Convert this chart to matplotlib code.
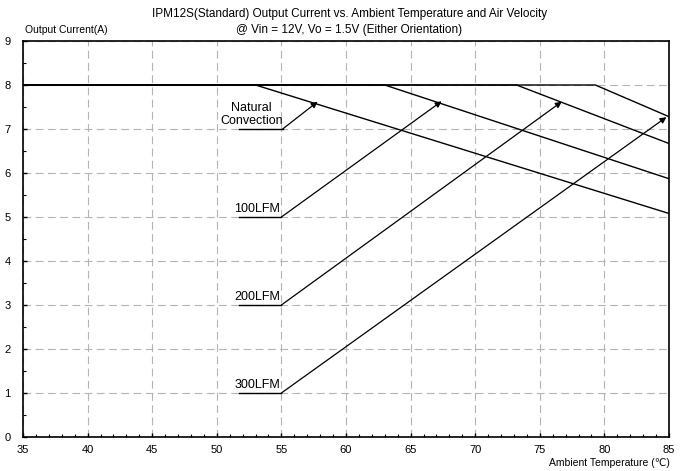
import matplotlib
matplotlib.use('Agg')
import matplotlib.pyplot as plt
from matplotlib.ticker import MultipleLocator

plt.rcParams['font.family'] = ['Liberation Sans', 'DejaVu Sans']

# derating curves: (temperature, current)
natural_t = [35, 53, 85]
natural_i = [8, 8, 5.08]
lfm100_t = [35, 63, 85]
lfm100_i = [8, 8, 5.87]
lfm200_t = [35, 73.2, 85]
lfm200_i = [8, 8, 6.67]
lfm300_t = [35, 79.3, 85]
lfm300_i = [8, 8, 7.28]

# labels: text, underline start x, anchor (x, y), arrow tip (x, y)
labels = ['Natural\nConvection', '100LFM', '200LFM', '300LFM']
label_x0 = [51.7, 51.7, 51.7, 51.7]
anchor_x = [55.1, 55.0, 55.0, 55.0]
anchor_y = [7.0, 5.0, 3.0, 1.0]
tip_x = [57.8, 67.4, 76.7, 84.8]
tip_y = [7.62, 7.63, 7.62, 7.27]

fig = plt.figure(figsize=(6.99, 4.71), dpi=100)
ax = fig.add_axes([23/699, 1-437/471, 646/699, 396/471])

for t, i in [(natural_t, natural_i), (lfm100_t, lfm100_i),
             (lfm200_t, lfm200_i), (lfm300_t, lfm300_i)]:
    ax.plot(t, i, color='black', lw=1.0)

for txt, x0, ax_, ay, tx, ty in zip(labels, label_x0, anchor_x, anchor_y, tip_x, tip_y):
    ax.plot([x0, ax_], [ay, ay], color='black', lw=1.0)
    ax.annotate('', xy=(tx, ty), xytext=(ax_, ay),
                arrowprops=dict(arrowstyle='-|>', color='black', lw=0.9,
                                mutation_scale=9, shrinkA=0, shrinkB=0))
    if '\n' in txt:
        ax.text(52.7, ay + 0.05, txt, ha='center', va='bottom',
                fontsize=9, linespacing=1.05)
    else:
        ax.text(ax_ - 0.1, ay + 0.05, txt, ha='right', va='bottom', fontsize=9)

ax.set_xlim(35, 85)
ax.set_ylim(0, 9)
ax.xaxis.set_major_locator(MultipleLocator(5))
ax.xaxis.set_minor_locator(MultipleLocator(1))
ax.yaxis.set_major_locator(MultipleLocator(1))
ax.yaxis.set_minor_locator(MultipleLocator(0.5))
ax.tick_params(axis='both', which='both', direction='in', labelsize=8)
ax.tick_params(axis='both', which='major', length=3, width=1)
ax.tick_params(axis='both', which='minor', length=2, width=0.8)
ax.tick_params(axis='x', pad=6)
ax.tick_params(axis='y', pad=9)
ax.grid(True, which='major', color='#b4b4b4', ls=(0, (7, 4)), lw=0.8)
for s in ax.spines.values():
    s.set_linewidth(1.2)

fig.text(0.5, 1-14/471, 'IPM12S(Standard) Output Current vs. Ambient Temperature and Air Velocity',
         ha='center', va='center', fontsize=8.5)
fig.text(0.5, 1-30/471, '@ Vin = 12V, Vo = 1.5V (Either Orientation)',
         ha='center', va='center', fontsize=8.5)
fig.text(25/699, 1-30/471, 'Output Current(A)', ha='left', va='center', fontsize=7.5)
fig.text(670/699, 1-463/471, 'Ambient Temperature (℃)', ha='right', va='center', fontsize=7.5)

fig.savefig('out.png', dpi=100)
